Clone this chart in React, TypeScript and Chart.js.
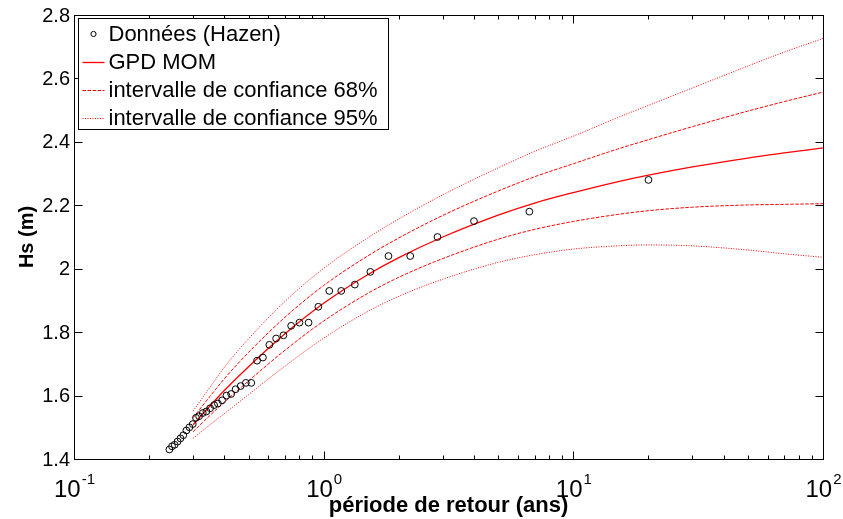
import React, { useEffect, useRef } from "react";
import { Chart, registerables } from "chart.js";

Chart.register(...registerables);

// ---- Data ----
const returnPeriods = [
  20, 6.667, 4, 2.857, 2.222, 1.818, 1.538, 1.333, 1.176, 1.053,
  0.952, 0.87, 0.8, 0.741, 0.69, 0.645, 0.606, 0.571, 0.541, 0.513,
  0.488, 0.465, 0.444, 0.426, 0.408, 0.392, 0.377, 0.364, 0.351, 0.339,
  0.328, 0.317, 0.308, 0.299, 0.29, 0.282, 0.274, 0.267, 0.26, 0.253,
  0.247, 0.241,
];
const observedHs = [
  2.28, 2.18, 2.15, 2.1, 2.04, 2.04, 1.99, 1.95, 1.93, 1.93,
  1.88, 1.83, 1.83, 1.82, 1.79, 1.78, 1.76, 1.72, 1.71, 1.64,
  1.64, 1.63, 1.62, 1.605, 1.6, 1.585, 1.575, 1.57, 1.56, 1.55,
  1.545, 1.535, 1.53, 1.51, 1.5, 1.49, 1.475, 1.465, 1.455, 1.445,
  1.44, 1.43,
];

const curveT = [0.3, 0.35, 0.4, 0.5, 0.7, 1, 1.5, 2, 3, 5, 7, 10, 15, 20, 30, 50, 70, 100];
const gpdHs = [1.508, 1.567, 1.616, 1.691, 1.795, 1.891, 1.981, 2.035, 2.1, 2.169, 2.207, 2.24, 2.274, 2.295, 2.321, 2.349, 2.365, 2.381];
const ci68Upper = [1.53, 1.597, 1.653, 1.736, 1.847, 1.947, 2.04, 2.097, 2.168, 2.245, 2.29, 2.331, 2.377, 2.407, 2.448, 2.497, 2.527, 2.557];
const ci68Lower = [1.486, 1.537, 1.579, 1.646, 1.743, 1.835, 1.922, 1.973, 2.032, 2.093, 2.124, 2.149, 2.171, 2.183, 2.194, 2.201, 2.203, 2.205];
const ci95Upper = [1.551, 1.626, 1.689, 1.779, 1.897, 2.001, 2.097, 2.157, 2.233, 2.318, 2.37, 2.418, 2.476, 2.515, 2.57, 2.639, 2.683, 2.726];
const ci95Lower = [1.465, 1.508, 1.543, 1.603, 1.693, 1.781, 1.865, 1.913, 1.967, 2.02, 2.044, 2.062, 2.072, 2.075, 2.072, 2.059, 2.047, 2.036];

const xMajorTicks = [0.1, 1, 10, 100];
const xTickExponents = ["-1", "0", "1", "2"];
const yTicks = [1.4, 1.6, 1.8, 2, 2.2, 2.4, 2.6, 2.8];
const yTickLabels = ["1.4", "1.6", "1.8", "2", "2.2", "2.4", "2.6", "2.8"];

const xTitle = "période de retour (ans)";
const yTitle = "Hs (m)";
const seriesLabels = [
  "Données (Hazen)",
  "GPD MOM",
  "intervalle de confiance 68%",
  "intervalle de confiance 95%",
];

const FONT = "'Liberation Sans', Arial, Helvetica, sans-serif";
const RED = "#ff0000";

const toXY = (xs: number[], ys: number[]) => xs.map((x, i) => ({ x, y: ys[i] }));

const framePlugin = {
  id: "matlabFrame",
  afterDatasetsDraw(chart: any) {
    const { ctx, chartArea: a, scales } = chart;
    const xs = scales.x;
    const ys = scales.y;
    const L = Math.round(a.left) + 0.5;
    const R = Math.round(a.right) + 0.5;
    const T = Math.round(a.top) + 0.5;
    const B = Math.round(a.bottom) + 0.5;
    ctx.save();
    ctx.strokeStyle = "#000";
    ctx.lineWidth = 1;
    ctx.strokeRect(L, T, R - L, B - T);

    const major = 8;
    const minor = 4;
    ctx.beginPath();
    for (let e = -1; e <= 2; e++) {
      for (let k = 1; k <= 9; k++) {
        const v = k * Math.pow(10, e);
        if (v > 100.0001) continue;
        const px = Math.round(xs.getPixelForValue(v)) + 0.5;
        const len = k === 1 ? major : minor;
        ctx.moveTo(px, B);
        ctx.lineTo(px, B - len);
        ctx.moveTo(px, T);
        ctx.lineTo(px, T + len);
      }
    }
    yTicks.forEach((v) => {
      const py = Math.round(ys.getPixelForValue(v)) + 0.5;
      ctx.moveTo(L, py);
      ctx.lineTo(L + major, py);
      ctx.moveTo(R, py);
      ctx.lineTo(R - major, py);
    });
    ctx.stroke();

    // y tick labels
    ctx.fillStyle = "#000";
    ctx.font = `20px ${FONT}`;
    ctx.textAlign = "right";
    ctx.textBaseline = "middle";
    yTicks.forEach((v, i) => {
      ctx.fillText(yTickLabels[i], a.left - 4, ys.getPixelForValue(v) + 1);
    });

    // x tick labels 10^n
    ctx.textBaseline = "alphabetic";
    ctx.textAlign = "left";
    xMajorTicks.forEach((v, i) => {
      const px = xs.getPixelForValue(v);
      ctx.font = `24px ${FONT}`;
      const w1 = ctx.measureText("10").width;
      ctx.font = `15px ${FONT}`;
      const w2 = ctx.measureText(xTickExponents[i]).width;
      const start = px - (w1 + w2) / 2;
      ctx.font = `24px ${FONT}`;
      ctx.fillText("10", start, a.bottom + 38);
      ctx.font = `15px ${FONT}`;
      ctx.fillText(xTickExponents[i], start + w1 + 1, a.bottom + 25);
    });

    // axis titles
    ctx.font = `bold 22px ${FONT}`;
    ctx.textAlign = "center";
    ctx.textBaseline = "alphabetic";
    ctx.fillText(xTitle, (a.left + a.right) / 2, a.bottom + 53);

    ctx.save();
    ctx.translate(33, (a.top + a.bottom) / 2);
    ctx.rotate(-Math.PI / 2);
    ctx.font = `bold 20px ${FONT}`;
    ctx.textAlign = "center";
    ctx.textBaseline = "alphabetic";
    ctx.fillText(yTitle, 0, 0);
    ctx.restore();

    ctx.restore();
  },
  afterDraw(chart: any) {
    const { ctx, chartArea: a } = chart;
    const bx = Math.round(a.left) + 4.5;
    const by = Math.round(a.top) + 3.5;
    const bw = 310;
    const bh = 111;
    ctx.save();
    ctx.fillStyle = "#fff";
    ctx.fillRect(bx, by, bw, bh);
    ctx.strokeStyle = "#000";
    ctx.lineWidth = 1;
    ctx.strokeRect(bx, by, bw, bh);
    const rows = [15.5, 43.5, 71.5, 99.5];
    const legendSets = chart.data.datasets.slice(0, 4);
    legendSets.forEach((ds: any, i: number) => {
      const cy = by + rows[i];
      const x0 = bx + 4;
      const x1 = bx + 26;
      ctx.save();
      if (ds.showLine) {
        ctx.strokeStyle = ds.borderColor;
        ctx.lineWidth = ds.borderWidth;
        ctx.setLineDash(ds.borderDash || []);
        ctx.beginPath();
        ctx.moveTo(x0, Math.round(cy) + 0.5);
        ctx.lineTo(x1, Math.round(cy) + 0.5);
        ctx.stroke();
      } else {
        ctx.strokeStyle = ds.borderColor;
        ctx.lineWidth = 1;
        ctx.beginPath();
        ctx.arc((x0 + x1) / 2, cy, 2.6, 0, Math.PI * 2);
        ctx.stroke();
      }
      ctx.restore();
      ctx.fillStyle = "#000";
      ctx.font = `22px ${FONT}`;
      ctx.textAlign = "left";
      ctx.textBaseline = "middle";
      ctx.fillText(ds.label, bx + 30, cy + 1);
    });
    ctx.restore();
  },
};

export default function App() {
  const canvasRef = useRef<HTMLCanvasElement | null>(null);

  useEffect(() => {
    const canvas = canvasRef.current;
    if (!canvas) return;
    const lineBase = {
      showLine: true,
      pointRadius: 0,
      pointHoverRadius: 0,
      fill: false,
      cubicInterpolationMode: "monotone",
      borderColor: RED,
    };
    const chart = new Chart(canvas, {
      type: "scatter",
      data: {
        datasets: [
          {
            label: seriesLabels[0],
            data: toXY(returnPeriods, observedHs),
            showLine: false,
            pointRadius: 3.4,
            pointBorderWidth: 1,
            borderColor: "#000",
            pointBorderColor: "#000",
            pointBackgroundColor: "rgba(0,0,0,0)",
            backgroundColor: "rgba(0,0,0,0)",
          } as any,
          { ...lineBase, label: seriesLabels[1], data: toXY(curveT, gpdHs), borderWidth: 1.3 } as any,
          { ...lineBase, label: seriesLabels[2], data: toXY(curveT, ci68Upper), borderWidth: 1, borderDash: [3.5, 1.5] } as any,
          { ...lineBase, label: seriesLabels[3], data: toXY(curveT, ci95Upper), borderWidth: 1, borderDash: [1, 1.5] } as any,
          { ...lineBase, label: "ci68 lower", data: toXY(curveT, ci68Lower), borderWidth: 1, borderDash: [3.5, 1.5] } as any,
          { ...lineBase, label: "ci95 lower", data: toXY(curveT, ci95Lower), borderWidth: 1, borderDash: [1, 1.5] } as any,
        ],
      },
      options: {
        responsive: false,
        animation: false,
        events: [],
        layout: { padding: { left: 74, right: 20, top: 15, bottom: 60 } },
        scales: {
          x: { type: "logarithmic", min: 0.1, max: 100, display: false },
          y: { type: "linear", min: 1.4, max: 2.8, display: false },
        },
        plugins: { legend: { display: false }, tooltip: { enabled: false } },
      },
      plugins: [framePlugin],
    } as any);
    return () => chart.destroy();
  }, []);

  return (
    <div style={{ position: "fixed", left: 0, top: 0, width: 843, height: 519, background: "#fff" }}>
      <canvas ref={canvasRef} width={843} height={519} style={{ display: "block", width: 843, height: 519 }} />
    </div>
  );
}
